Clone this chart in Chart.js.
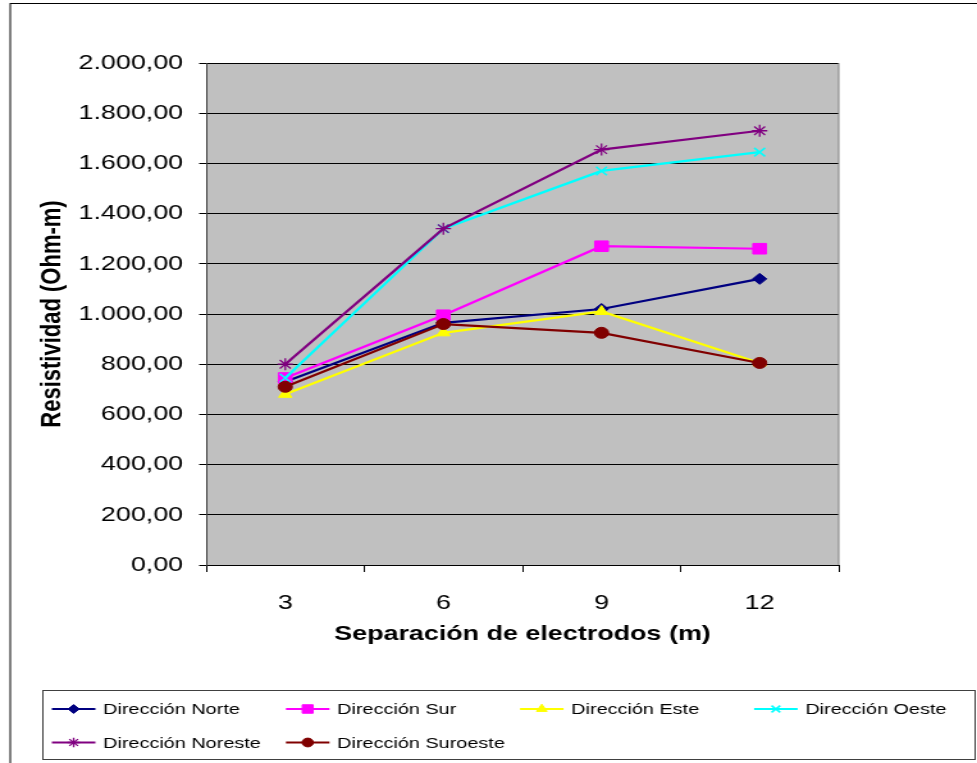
<!DOCTYPE html>
<html>
<head>
<meta charset="utf-8">
<script src="https://cdn.jsdelivr.net/npm/chart.js@4.4.1/dist/chart.umd.min.js"></script>
<style>
  html, body { margin: 0; padding: 0; background: #fff; overflow: hidden; }
  #wrap { width: 763px; height: 763px; transform: scaleX(1.2805); transform-origin: 0 0; }
  canvas { display: block; }
</style>
</head>
<body>
<div id="wrap"><canvas id="chart" width="763" height="763"></canvas></div>
<script>
// Separación de electrodos (m)
const categories = ['3', '6', '9', '12'];

// Resistividad aparente (Ohm-m) por dirección
const norte    = [730, 965, 1020, 1140];
const sur      = [745, 995, 1270, 1260];
const este     = [680, 925, 1010, 805];
const oeste    = [745, 1340, 1570, 1645];
const noreste  = [800, 1340, 1655, 1730];
const suroeste = [710, 960, 925, 805];

const seriesLabels = ['Dirección Norte', 'Dirección Sur', 'Dirección Este',
                      'Dirección Oeste', 'Dirección Noreste', 'Dirección Suroeste'];

const FONT = '"Liberation Sans", Arial, sans-serif';

// 2000 -> "2.000,00"
function fmtEs(v) {
  const intPart = Math.round(v).toString().replace(/\B(?=(\d{3})+(?!\d))/g, '.');
  return intPart + ',00';
}

function series(label, data, color, style, radius, bw) {
  return {
    label: label,
    data: data,
    borderColor: color,
    backgroundColor: color,
    pointBackgroundColor: color,
    pointBorderColor: color,
    pointStyle: style,
    pointRadius: radius,
    pointHoverRadius: radius,
    pointBorderWidth: bw,
    borderWidth: 2.2,
    tension: 0,
    fill: false
  };
}

const datasets = [
  series(seriesLabels[0], norte,    '#000080', 'rectRot',  5.5, 1),
  series(seriesLabels[1], sur,      '#FF00FF', 'rect',     7.5, 1),
  series(seriesLabels[2], este,     '#FFFF00', 'triangle', 6,   1),
  series(seriesLabels[3], oeste,    '#00FFFF', 'crossRot', 6,   1.5),
  series(seriesLabels[4], noreste,  '#800080', 'star',     6,   1.3),
  series(seriesLabels[5], suroeste, '#800000', 'circle',   5.5, 1)
];
// later series are painted over earlier ones
datasets.forEach((d, i) => { d.order = datasets.length - i; });

const frameAndLegend = {
  id: 'frameAndLegend',
  beforeDraw(chart) {
    const { ctx, chartArea: a } = chart;
    ctx.save();
    ctx.fillStyle = '#fff';
    ctx.fillRect(0, 0, chart.width, chart.height);
    ctx.strokeStyle = '#000';
    ctx.lineWidth = 1;
    ctx.strokeRect(8, 3.5, chart.width + 10, chart.height + 10);
    ctx.fillStyle = '#c0c0c0';
    ctx.fillRect(a.left, a.top, a.right - a.left, a.bottom - a.top);
    ctx.restore();
  },
  afterDatasetsDraw(chart) {
    const { ctx, chartArea: a } = chart;
    ctx.save();
    ctx.strokeStyle = '#808080';
    ctx.lineWidth = 1;
    ctx.beginPath();
    ctx.moveTo(a.right, a.top);
    ctx.lineTo(a.right, a.bottom);
    ctx.stroke();
    ctx.restore();
  },
  afterDraw(chart) {
    const ctx = chart.ctx;
    ctx.save();
    const bx = 33, by = 690, bw = 728, bh = 69;
    ctx.fillStyle = '#fff';
    ctx.fillRect(bx, by, bw, bh);
    ctx.strokeStyle = '#404040';
    ctx.lineWidth = 1;
    ctx.strokeRect(bx + 0.5, by + 0.5, bw, bh);
    chart.data.datasets.forEach((ds, i) => {
      const col = i % 4, row = Math.floor(i / 4);
      const x0 = 40.5 + col * 182.8;
      const y = 709 + row * 33.5;
      ctx.strokeStyle = ds.borderColor;
      ctx.lineWidth = 2.2;
      ctx.beginPath();
      ctx.moveTo(x0, y);
      ctx.lineTo(x0 + 34, y);
      ctx.stroke();
      ctx.fillStyle = ds.pointBackgroundColor;
      ctx.strokeStyle = ds.pointBorderColor;
      ctx.lineWidth = ds.pointBorderWidth;
      Chart.helpers.drawPoint(ctx, {
        pointStyle: ds.pointStyle, rotation: 0,
        radius: ds.pointRadius * 0.8, borderWidth: ds.pointBorderWidth
      }, x0 + 17, y);
      ctx.fillStyle = '#000';
      ctx.font = '15.5px ' + FONT;
      ctx.textAlign = 'left';
      ctx.textBaseline = 'middle';
      ctx.fillText(ds.label, x0 + 40, y + 1);
    });
    ctx.restore();
  }
};

new Chart(document.getElementById('chart'), {
  type: 'line',
  data: { labels: categories, datasets: datasets },
  options: {
    responsive: false,
    devicePixelRatio: 1,
    animation: false,
    layout: { padding: { left: 28, top: 63, right: 108, bottom: 98 } },
    plugins: { legend: { display: false }, tooltip: { enabled: false } },
    scales: {
      x: {
        offset: true,
        grid: { display: true, drawOnChartArea: false, drawTicks: true, tickLength: 7,
                tickColor: '#000', offset: true },
        border: { display: true, color: '#000', width: 1 },
        ticks: { color: '#000', font: { family: FONT, size: 21 }, padding: 19,
                 maxRotation: 0, autoSkip: false },
        title: { display: true, text: 'Separación de electrodos (m)', color: '#000',
                 font: { family: FONT, size: 21, weight: 'bold' },
                 padding: { top: 0, bottom: 18 } },
        afterFit(s) { s.height = 100; }
      },
      y: {
        min: 0,
        max: 2000,
        ticks: { stepSize: 200, color: '#000', font: { family: FONT, size: 21 },
                 padding: 12.5, callback: (v) => fmtEs(v) },
        grid: { color: '#000', lineWidth: 1, drawTicks: true, tickLength: 5.5, tickColor: '#000' },
        border: { display: true, color: '#404040', width: 1 },
        title: { display: true, text: 'Resistividad (Ohm-m)', color: '#000',
                 font: { family: FONT, size: 22, weight: 'bold' },
                 padding: { top: 0, bottom: 0 } },
        afterFit(s) { s.width = 133; }
      }
    }
  },
  plugins: [frameAndLegend]
});
</script>
</body>
</html>
